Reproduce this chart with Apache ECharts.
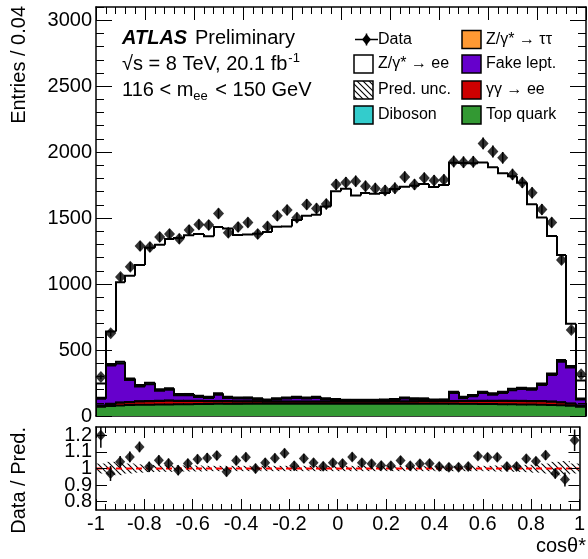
<!DOCTYPE html>
<html>
<head>
<meta charset="utf-8">
<script src="https://cdn.jsdelivr.net/npm/echarts@6.0.0/dist/echarts.min.js"></script>
<style>html,body{margin:0;padding:0;background:#fff;}#chart{width:588px;height:559px;}</style>
</head>
<body>
<div id="chart"></div>
<script>
// ---- bins (cos theta*, width 0.04) ----
const binCenters = [-0.98,-0.94,-0.90,-0.86,-0.82,-0.78,-0.74,-0.70,-0.66,-0.62,-0.58,-0.54,-0.50,-0.46,-0.42,-0.38,-0.34,-0.30,-0.26,-0.22,-0.18,-0.14,-0.10,-0.06,-0.02,0.02,0.06,0.10,0.14,0.18,0.22,0.26,0.30,0.34,0.38,0.42,0.46,0.50,0.54,0.58,0.62,0.66,0.70,0.74,0.78,0.82,0.86,0.90,0.94,0.98];
const binHalfWidth = 0.02;

// ---- observed data ----
const dataCounts = [295,628,1053,1131,1288,1280,1356,1379,1343,1409,1452,1447,1535,1389,1432,1467,1379,1437,1517,1561,1503,1604,1573,1606,1755,1770,1780,1742,1725,1710,1727,1811,1755,1803,1785,1790,1929,1924,1927,2066,2005,1957,1831,1770,1692,1566,1467,1182,652,316];
const dataErr = [17,25,32,34,36,36,37,37,37,38,38,38,39,37,38,38,37,38,39,40,39,40,40,40,42,42,42,42,42,41,42,43,42,42,42,42,44,44,44,45,45,44,43,42,41,40,38,34,26,18];

// ---- predictions (stack, bottom to top) ----
const topQuark = [70,76,80,83,85,86,87,88,89,90,91,91,92,92,92,93,93,93,93,93,93,93,93,93,93,93,93,93,93,93,93,93,93,93,93,93,92,92,92,91,91,90,89,88,87,86,84,81,77,70];
const gammaGamma = [8,14,20,22,24,26,27,28,24,24,22,21,20,19,18,17,16,15,15,15,15,15,15,15,15,15,15,15,15,15,16,16,17,18,18,19,20,21,22,22,23,24,24,25,25,25,24,22,16,8];
const zTauTau = [1,2,2,2,2,2,2,2,2,2,2,2,2,2,2,2,2,2,2,2,2,2,2,2,2,2,2,2,2,2,2,2,2,2,2,2,2,2,2,2,2,2,2,2,2,2,2,2,2,1];
const fakeLept = [52,290,296,165,112,126,75,81,42,41,29,22,48,24,20,20,14,7,15,22,27,22,27,15,9,4,4,4,4,7,9,21,13,12,4,3,60,22,33,59,46,58,81,89,85,122,201,306,272,46];
const diboson = [8,12,13,13,12,12,11,11,10,10,10,10,10,9,9,9,9,9,9,9,9,9,9,9,9,9,9,9,9,9,9,9,9,9,9,9,10,9,10,10,10,10,11,11,11,12,12,13,12,8];
const zee = [108,246,602,778,910,1023,1096,1132,1183,1203,1226,1217,1260,1276,1230,1234,1247,1269,1301,1295,1339,1377,1380,1454,1576,1599,1549,1567,1562,1564,1591,1597,1611,1624,1609,1624,1736,1772,1756,1738,1713,1656,1610,1553,1395,1258,1042,796,321,136];

// ---- ratio panel ----
const ratioVals = [1.20,0.97,1.04,1.07,1.13,1.01,1.05,1.03,0.99,1.03,1.056,1.064,1.078,0.98,1.048,1.068,1.0,1.034,1.062,1.092,1.016,1.06,1.034,1.014,1.034,1.03,1.07,1.034,1.028,1.018,1.016,1.048,1.016,1.028,1.03,1.012,1.008,1.008,1.012,1.076,1.068,1.068,1.012,1.012,1.058,1.044,1.08,0.97,0.934,1.17];
const ratioErr = [0.075,0.045,0.035,0.033,0.032,0.031,0.03,0.03,0.03,0.029,0.029,0.029,0.028,0.028,0.029,0.028,0.029,0.028,0.028,0.028,0.028,0.027,0.027,0.027,0.026,0.026,0.026,0.026,0.026,0.026,0.026,0.026,0.026,0.026,0.026,0.026,0.025,0.025,0.025,0.024,0.025,0.025,0.025,0.026,0.026,0.027,0.028,0.031,0.042,0.065];
const predUnc = [0.03,0.04,0.04,0.03,0.025,0.022,0.02,0.02,0.018,0.018,0.018,0.016,0.016,0.016,0.016,0.016,0.016,0.016,0.016,0.016,0.016,0.016,0.016,0.016,0.016,0.016,0.016,0.016,0.016,0.016,0.016,0.016,0.016,0.016,0.016,0.016,0.016,0.016,0.016,0.016,0.016,0.018,0.018,0.02,0.022,0.025,0.03,0.04,0.045,0.03];

// ---- tick labels ----
const mainYTicks = [0,500,1000,1500,2000,2500,3000];
const ratioYTicks = [0.8,0.9,1,1.1,1.2];
const ratioYLabelsA = [0.8,1,1.2];
const ratioYLabelsB = [0.9,1.1];

const FONT = '"Liberation Sans", Arial, Helvetica, sans-serif';
const colors = {top:'#339933', gg:'#cc0000', tt:'#ff9933', fake:'#6600cc', dib:'#33cccc', zee:'#ffffff'};

// cumulative stack
const layers = [topQuark, gammaGamma, zTauTau, fakeLept, diboson, zee];
const cum = [];
let run = binCenters.map(() => 0);
layers.forEach(l => { run = run.map((v, i) => v + l[i]); cum.push(run.slice()); });

function hatchPattern() {
  const c = document.createElement('canvas');
  c.width = 6; c.height = 6;
  const g = c.getContext('2d');
  g.strokeStyle = '#000'; g.lineWidth = 1.1;
  g.beginPath();
  g.moveTo(-1, -1); g.lineTo(7, 7);
  g.moveTo(-1, 5); g.lineTo(1, 7);
  g.moveTo(5, -1); g.lineTo(7, 1);
  g.stroke();
  return {image: c, repeat: 'repeat'};
}
const HATCH = hatchPattern();

function stepSeries(tops, color, lw) {
  const items = tops.map((t, i) => [binCenters[i] - binHalfWidth, binCenters[i] + binHalfWidth, t, i > 0 ? tops[i - 1] : 0, i === tops.length - 1 ? 1 : 0]);
  return {
    type: 'custom', xAxisIndex: 0, yAxisIndex: 0, clip: true, silent: true, z: 2,
    data: items, encode: {x: [0, 1], y: [2, 3]},
    renderItem: function (params, api) {
      const x0 = api.value(0), x1 = api.value(1), t = api.value(2), p = api.value(3), last = api.value(4);
      const tl = api.coord([x0, t]), br = api.coord([x1, 0]), pv = api.coord([x0, p]);
      const L = Math.round(tl[0]), R = Math.round(br[0]);
      const kids = [];
      kids.push({type: 'rect', shape: {x: L, y: tl[1], width: R - L, height: br[1] - tl[1]}, style: {fill: color, stroke: null}});
      const pts = [[L, pv[1]], [L, tl[1]], [R, tl[1]]];
      if (last) pts.push([R, br[1]]);
      kids.push({type: 'polyline', shape: {points: pts}, style: {stroke: '#000', lineWidth: lw, fill: null}});
      return {type: 'group', children: kids};
    }
  };
}

function errSeries(xi, yi, vals, errs, w) {
  return {
    type: 'custom', xAxisIndex: xi, yAxisIndex: yi, clip: true, silent: true, z: 4,
    data: vals.map((v, i) => [binCenters[i], v - errs[i], v + errs[i]]), encode: {x: 0, y: [1, 2]},
    renderItem: function (params, api) {
      const a = api.coord([api.value(0), api.value(1)]), b = api.coord([api.value(0), api.value(2)]);
      return {type: 'line', shape: {x1: a[0], y1: a[1], x2: b[0], y2: b[1]}, style: {stroke: '#000', lineWidth: w}};
    }
  };
}

function xAx(grid, pos, labels, majLen, minLen) {
  return {
    type: 'value', gridIndex: grid, position: pos, min: -1, max: 1, interval: 0.2, z: pos === 'top' ? 5 : 0,
    axisLine: {show: true, onZero: false, lineStyle: {color: '#000', width: 1.5}},
    axisTick: {show: true, inside: true, length: majLen, lineStyle: {color: '#000', width: 1}},
    minorTick: {show: true, splitNumber: 5, length: minLen, lineStyle: {color: '#000', width: 1}},
    splitLine: {show: false}, minorSplitLine: {show: false},
    axisLabel: {show: labels, fontSize: 20, fontFamily: FONT, color: '#000', margin: 4, hideOverlap: false,
      formatter: v => String(Math.round(v * 10) / 10)}
  };
}
function yMain(pos, labels) {
  return {
    type: 'value', gridIndex: 0, position: pos, min: 0, max: 3100, interval: 500, z: 5,
    axisLine: {show: true, onZero: false, lineStyle: {color: '#000', width: 1.5}},
    axisTick: {show: true, inside: true, length: 16, customValues: mainYTicks, lineStyle: {color: '#000', width: 1}},
    minorTick: {show: false}, splitLine: {show: false},
    axisLabel: {show: labels, customValues: mainYTicks, fontSize: 20, fontFamily: FONT, color: '#000', margin: 4, hideOverlap: false,
      formatter: v => String(Math.round(v))}
  };
}
function yMinor(pos) {
  return {
    type: 'value', gridIndex: 0, position: pos, min: 0, max: 3100, interval: 100, z: 5,
    axisLine: {show: false, onZero: false},
    axisTick: {show: true, inside: true, length: 8, lineStyle: {color: '#000', width: 1}},
    minorTick: {show: false}, splitLine: {show: false}, axisLabel: {show: false}
  };
}
function yRatio(pos, labelVals, withLine) {
  return {
    type: 'value', gridIndex: 1, position: pos, min: 0.75, max: 1.25, z: 5,
    axisLine: {show: withLine, onZero: false, lineStyle: {color: '#000', width: 1.5}},
    axisTick: {show: withLine, inside: true, length: 11, customValues: ratioYTicks, lineStyle: {color: '#000', width: 1}},
    minorTick: {show: false}, splitLine: {show: false},
    axisLabel: {show: !!labelVals, customValues: labelVals || ratioYTicks, fontSize: 20, fontFamily: FONT, color: '#000', margin: 4,
      hideOverlap: false, showMinLabel: true, showMaxLabel: true,
      formatter: v => String(Math.round(v * 10) / 10)}
  };
}

// text helpers
const mctx = document.createElement('canvas').getContext('2d');
function tw(text, size, weight, style) {
  mctx.font = (style || 'normal') + ' ' + (weight || 'normal') + ' ' + size + 'px ' + FONT;
  return mctx.measureText(text).width;
}
function txt(x, y, text, size, o) {
  o = o || {};
  return {type: 'text', x: x, y: y, z: 100, rotation: o.rot || 0, silent: true,
    style: {text: text, fontSize: size, fontFamily: FONT, fontWeight: o.weight || 'normal', fontStyle: o.fstyle || 'normal',
      fill: '#000', align: o.align || 'left', verticalAlign: o.va || 'middle', textAlign: o.align || 'left', textVerticalAlign: o.va || 'middle'}};
}
function box(x, y, fill) {
  return {type: 'rect', z: 100, silent: true, shape: {x: x, y: y, width: 19, height: 18}, style: {fill: fill, stroke: '#000', lineWidth: 1.5}};
}

const graphics = [];
// axis titles
graphics.push(txt(19, 6, 'Entries / 0.04', 20, {rot: Math.PI / 2, align: 'right'}));
graphics.push(txt(19, 427, 'Data / Pred.', 20, {rot: Math.PI / 2, align: 'right'}));
graphics.push(txt(586, 546, 'cosθ*', 20, {align: 'right'}));
// ATLAS label
graphics.push(txt(122, 38.5, 'ATLAS', 20, {weight: 'bold', fstyle: 'italic'}));
graphics.push(txt(195, 38.5, 'Preliminary', 20));
const l2 = '√s = 8 TeV, 20.1 fb';
graphics.push(txt(122, 64, l2, 20));
graphics.push(txt(122 + tw(l2, 20) + 1, 58, '-1', 13));
const l3a = '116 < m';
const xa = 122 + tw(l3a, 20);
graphics.push(txt(122, 90, l3a, 20));
graphics.push(txt(xa, 96, 'ee', 13));
graphics.push(txt(xa + 2 + tw('ee', 13), 90, ' < 150 GeV', 20));
// legend
const rows = [39.5, 64, 90, 115];
const c1b = 354, c1t = 378, c2b = 462, c2t = 486;
graphics.push({type: 'line', z: 100, silent: true, shape: {x1: 355, y1: rows[0], x2: 378, y2: rows[0]}, style: {stroke: '#000', lineWidth: 1.5}});
graphics.push({type: 'line', z: 100, silent: true, shape: {x1: 366.5, y1: rows[0] - 6, x2: 366.5, y2: rows[0] + 6}, style: {stroke: '#000', lineWidth: 1.5}});
graphics.push({type: 'polygon', z: 101, silent: true, shape: {points: [[366.5, rows[0] - 5.5], [371, rows[0]], [366.5, rows[0] + 5.5], [362, rows[0]]]}, style: {fill: '#000'}});
graphics.push(txt(c1t, rows[0], 'Data', 16));
graphics.push(box(c1b, rows[1] - 9, '#ffffff'));
graphics.push(txt(c1t, rows[1], 'Z/γ* → ee', 16));
graphics.push(box(c1b, rows[2] - 9, HATCH));
graphics.push(txt(c1t, rows[2], 'Pred. unc.', 16));
graphics.push(box(c1b, rows[3] - 9, colors.dib));
graphics.push(txt(c1t, rows[3], 'Diboson', 16));
graphics.push(box(c2b, rows[0] - 9, colors.tt));
graphics.push(txt(c2t, rows[0], 'Z/γ* → ττ', 16));
graphics.push(box(c2b, rows[1] - 9, colors.fake));
graphics.push(txt(c2t, rows[1], 'Fake lept.', 16));
graphics.push(box(c2b, rows[2] - 9, colors.gg));
graphics.push(txt(c2t, rows[2], 'γγ → ee', 16));
graphics.push(box(c2b, rows[3] - 9, colors.top));
graphics.push(txt(c2t, rows[3], 'Top quark', 16));

const series = [];
// stacked histograms, drawn from the full sum downward (ROOT style)
const layerColors = [colors.top, colors.gg, colors.tt, colors.fake, colors.dib, colors.zee];
for (let k = layers.length - 1; k >= 0; k--) {
  series.push(stepSeries(cum[k], layerColors[k], 2));
}
// data points
series.push(errSeries(0, 0, dataCounts, dataErr, 1.5));
series.push({type: 'scatter', xAxisIndex: 0, yAxisIndex: 0, z: 5, silent: true, symbol: 'diamond', symbolSize: [11, 12],
  itemStyle: {color: '#000'}, data: dataCounts.map((v, i) => [binCenters[i], v])});
// ratio: hatched prediction uncertainty
series.push({
  type: 'custom', xAxisIndex: 2, yAxisIndex: 4, clip: true, silent: true, z: 2,
  data: predUnc.map((u, i) => [binCenters[i] - binHalfWidth, binCenters[i] + binHalfWidth, 1 - u, 1 + u]), encode: {x: [0, 1], y: [2, 3]},
  renderItem: function (params, api) {
    const a = api.coord([api.value(0), api.value(3)]), b = api.coord([api.value(1), api.value(2)]);
    return {type: 'rect', shape: {x: a[0], y: a[1], width: b[0] - a[0], height: b[1] - a[1]}, style: {fill: HATCH, stroke: null}};
  }
});
series.push({type: 'line', xAxisIndex: 2, yAxisIndex: 4, z: 3, silent: true, symbol: 'none', data: [[-1, 1], [1, 1]],
  lineStyle: {color: '#ff0000', width: 2, type: [6, 4]}});
series.push(errSeries(2, 4, ratioVals, ratioErr, 1.5));
series.push({type: 'scatter', xAxisIndex: 2, yAxisIndex: 4, z: 5, silent: true, symbol: 'diamond', symbolSize: [10, 11],
  itemStyle: {color: '#000'}, data: ratioVals.map((v, i) => [binCenters[i], v])});

const option = {
  animation: false,
  backgroundColor: '#ffffff',
  grid: [
    {left: 96, top: 7, width: 490, height: 409, containLabel: false},
    {left: 96, top: 427, width: 490, height: 83, containLabel: false}
  ],
  xAxis: [xAx(0, 'bottom', false, 13, 7), xAx(0, 'top', false, 13, 7), xAx(1, 'bottom', true, 11, 6), xAx(1, 'top', false, 11, 6)],
  yAxis: [yMain('left', true), yMinor('left'), yMain('right', false), yMinor('right'),
          yRatio('left', ratioYLabelsA, true), yRatio('right', null, true), yRatio('left', ratioYLabelsB, false)],
  series: series,
  graphic: {elements: graphics}
};
const chart = echarts.init(document.getElementById('chart'), null, {renderer: 'canvas'});
chart.setOption(option);
</script>
</body>
</html>
